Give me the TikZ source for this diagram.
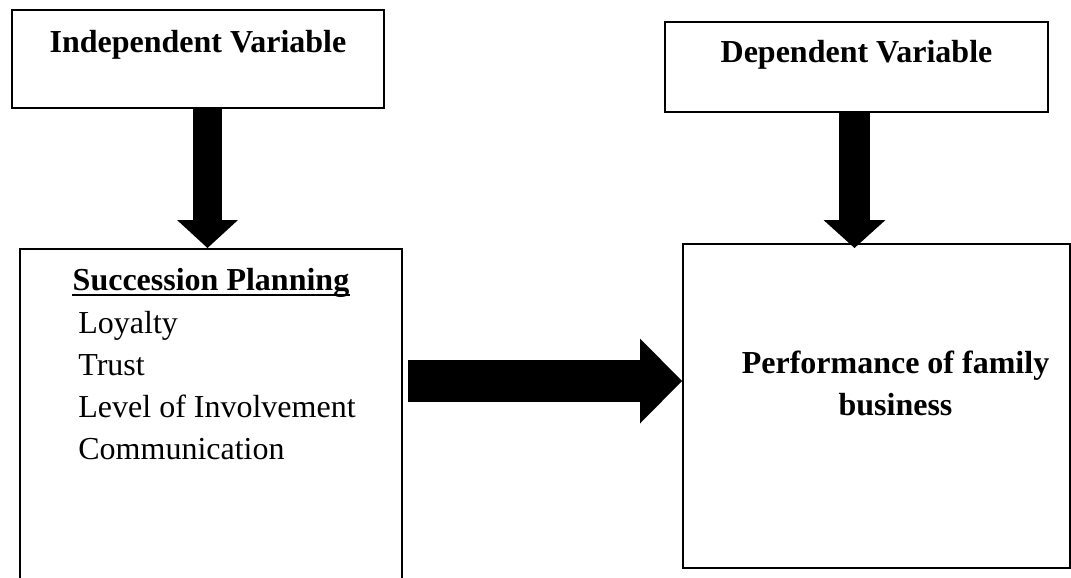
\documentclass[tikz,border=0pt]{standalone}
\usepackage{fontspec}
\setmainfont{Liberation Serif}
\usetikzlibrary{arrows.meta, calc}

\tikzset{
  varbox/.style={draw, line width=1pt, anchor=north west, inner sep=0pt},
  headtext/.style={inner sep=0pt, anchor=base, font=\fontsize{16}{21}\selectfont\bfseries},
  itemtext/.style={inner sep=0pt, anchor=base west, font=\fontsize{16}{21}\selectfont},
  fatarrow/.style n args={3}{line width=#1, -{Triangle[width=#2, length=#3, line width=0pt]}}
}

\begin{document}
\begin{tikzpicture}[x=0.5pt, y=-0.5pt]
\useasboundingbox (0,0) rectangle (1071,578);
\clip (0,0) rectangle (1071,578);

% boxes
\node[varbox, minimum width=186pt, minimum height=49pt] (indep) at (11,9) {};
\node[varbox, minimum width=191.5pt, minimum height=45pt] (dep) at (664,21) {};
\node[varbox, minimum width=191pt, minimum height=200pt] (succ) at (19,248) {};
\node[varbox, minimum width=193.5pt, minimum height=162pt] (perf) at (682,243) {};

% labels
\node[headtext] (indeptxt) at ($(indep.north)+(0,43)$) {Independent Variable};
\node[headtext] (deptxt) at ($(dep.north)+(0,41)$) {Dependent Variable};
\node[headtext] (succtxt) at ($(succ.north)+(0,42)$) {Succession Planning};
\draw[line width=1pt] ([yshift=-2.5pt]succtxt.base west) -- ([yshift=-2.5pt]succtxt.base east);
\node[itemtext] (loyalty) at ($(succ.north west)+(59,85)$) {Loyalty};
\node[itemtext] (trust) at ($(succ.north west)+(59,127)$) {Trust};
\node[itemtext] (involve) at ($(succ.north west)+(59,169)$) {Level of Involvement};
\node[itemtext] (comm) at ($(succ.north west)+(59,211)$) {Communication};
\node[headtext] (perftxt) at ($(perf.north)+(19,130)$) {Performance of family};
\node[headtext] (perftxt2) at ($(perf.north)+(19,172)$) {business};

% block arrows
\draw[fatarrow={14.5pt}{30.5pt}{14pt}] ($(indep.south)+(9.5,0)$) -- ($(indep.south |- succ.north)+(9.5,0)$);
\draw[fatarrow={15.5pt}{31pt}{14pt}] ($(dep.south)+(-2,0)$) -- ($(dep.south |- perf.north)+(-2,5)$);
\draw[fatarrow={21pt}{42.5pt}{21pt}] ($(succ.north east)+(5,133)$) -- ($(perf.north west)+(0,138)$);
\end{tikzpicture}
\end{document}
